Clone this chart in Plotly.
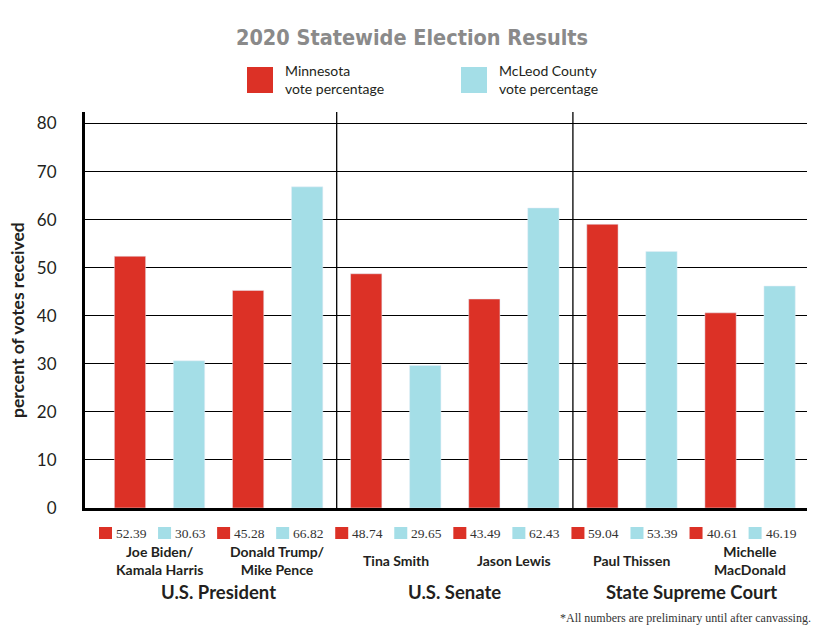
import plotly.graph_objects as go

# ---- data ----
races = ["U.S. President", "U.S. Senate", "State Supreme Court"]
candidates = ["Joe Biden/<br>Kamala Harris", "Donald Trump/<br>Mike Pence",
              "Tina Smith", "Jason Lewis",
              "Paul Thissen", "Michelle<br>MacDonald"]
minnesota = [52.39, 45.28, 48.74, 43.49, 59.04, 40.61]
mcleod = [30.63, 66.82, 29.65, 62.43, 53.39, 46.19]
series_names = ["Minnesota<br>vote percentage", "McLeod County<br>vote percentage"]
y_ticks = [0, 10, 20, 30, 40, 50, 60, 70, 80]

RED = "#dc3126"
CYAN = "#a4dee7"
INK = "#231f20"
SANS = "Lato"

# bar positions: each candidate gets two consecutive slots (MN, McLeod)
x_mn = [2 * i for i in range(len(candidates))]
x_mc = [2 * i + 1 for i in range(len(candidates))]

fig = go.Figure()
fig.add_trace(go.Bar(x=x_mn, y=minnesota, marker_color=RED, width=0.53,
                     showlegend=False, hoverinfo="y"))
fig.add_trace(go.Bar(x=x_mc, y=mcleod, marker_color=CYAN, width=0.53,
                     showlegend=False, hoverinfo="y"))

shapes = []
annotations = []

# value labels with small colour squares below the axis
for xs, vals, col in ((x_mn, minnesota, RED), (x_mc, mcleod, CYAN)):
    for xv, v in zip(xs, vals):
        shapes.append(dict(type="rect", xref="x", yref="paper",
                           xsizemode="pixel", ysizemode="pixel",
                           xanchor=xv, yanchor=0,
                           x0=-31, x1=-18, y0=-19, y1=-31,
                           fillcolor=col, line=dict(width=0)))
        annotations.append(dict(x=xv, y=0, xref="x", yref="paper",
                                text=f"{v:.2f}", showarrow=False,
                                xanchor="left", yanchor="middle",
                                xshift=-16, yshift=-25,
                                font=dict(family="Liberation Serif", size=13.5, color="#333")))

# candidate names
for i, name in enumerate(candidates):
    annotations.append(dict(x=2 * i + 0.5, y=0, xref="x", yref="paper",
                            text=f"<b>{name}</b>", showarrow=False,
                            xanchor="center", yanchor="middle", yshift=-52,
                            font=dict(family=SANS, size=14, color=INK)))

# race names
for g, race in enumerate(races):
    annotations.append(dict(x=4 * g + 1.5, y=0, xref="x", yref="paper",
                            text=f"<b>{race}</b>", showarrow=False,
                            xanchor="center", yanchor="middle", yshift=-84,
                            font=dict(family=SANS, size=18.5, color=INK)))

# separators between races
for g in range(1, len(races)):
    shapes.append(dict(type="line", xref="x", yref="paper",
                       x0=4 * g - 0.5, x1=4 * g - 0.5, y0=0, y1=1,
                       line=dict(color="black", width=1.3)))

# legend (custom)
leg_cols = [RED, CYAN]
leg_px = [247, 461]
for name, col, px in zip(series_names, leg_cols, leg_px):
    shapes.append(dict(type="rect", xref="paper", yref="paper",
                       x0=(px - 85) / 722, x1=(px + 26 - 85) / 722,
                       y0=(508 - 93) / 396, y1=(508 - 67) / 396,
                       fillcolor=col, line=dict(width=0)))
    annotations.append(dict(x=(px + 36 - 85) / 722, y=(508 - 80) / 396,
                            xref="paper", yref="paper", text=name,
                            showarrow=False, xanchor="left", yanchor="middle",
                            align="left",
                            font=dict(family=SANS, size=14, color=INK)))

# y-axis title
annotations.append(dict(x=(17 - 85) / 722, y=(508 - 320) / 396,
                        xref="paper", yref="paper",
                        text="<b>percent of votes received</b>", textangle=-90,
                        showarrow=False, xanchor="center", yanchor="middle",
                        font=dict(family=SANS, size=17.5, color=INK)))

# footnote
annotations.append(dict(x=(813 - 85) / 722, y=(508 - 618) / 396,
                        xref="paper", yref="paper",
                        text="*All numbers are preliminary until after canvassing.",
                        showarrow=False, xanchor="right", yanchor="middle",
                        font=dict(family="Liberation Serif", size=12, color="#333")))

fig.update_layout(
    width=826, height=630,
    margin=dict(l=85, r=19, t=112, b=122),
    paper_bgcolor="white", plot_bgcolor="white",
    title=dict(text="<b>2020 Statewide Election Results</b>",
               x=412 / 826, xanchor="center", y=1 - 37 / 630, yanchor="middle",
               font=dict(family="DejaVu Sans Condensed, Liberation Sans Narrow, Roboto",
                         size=21.5, color="#8a8a8a")),
    shapes=shapes, annotations=annotations,
    xaxis=dict(range=[-0.762, 11.464], showticklabels=False, showgrid=False,
               zeroline=False, showline=True, linecolor="black", linewidth=3,
               fixedrange=True),
    yaxis=dict(range=[0, 82.4], tickvals=y_ticks, showgrid=True,
               gridcolor="black", gridwidth=1.3, zeroline=False,
               showline=True, linecolor="black", linewidth=3,
               ticklabelstandoff=22,
               tickfont=dict(family=SANS, size=17, color=INK)),
)

fig.write_html("out.html", config={"displayModeBar": False},
               post_script="document.body.style.margin='0';document.body.style.padding='0';")
